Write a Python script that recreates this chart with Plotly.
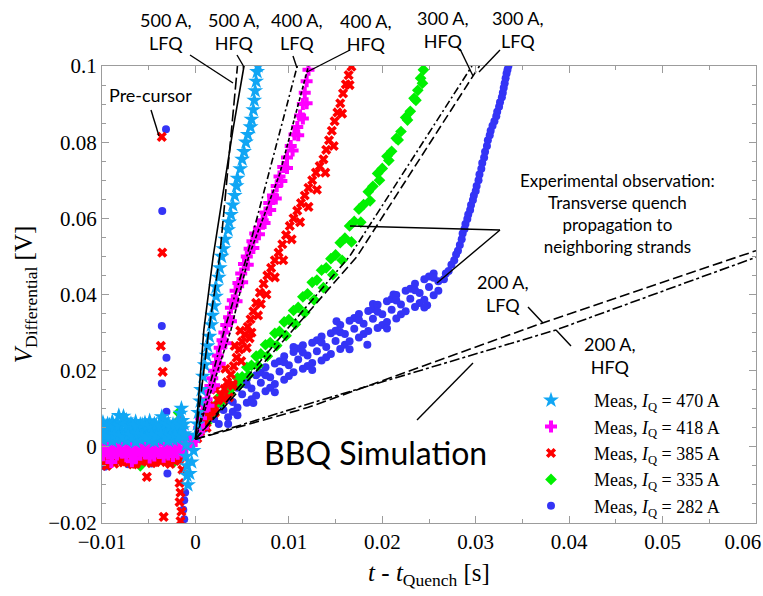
import plotly.graph_objects as go

# ---------------- axis tick labels ----------------
x_tickvals = [-0.01, 0.0, 0.01, 0.02, 0.03, 0.04, 0.05, 0.06]
x_ticktext = ["\u22120.01", "0", "0.01", "0.02", "0.03", "0.04", "0.05",
              "0.06\u00a0\u00a0\u00a0\u00a0\u00a0"]

pre_t = [-0.0099, -0.0094, -0.0089, -0.0084, -0.0079, -0.0074, -0.0069, -0.0064, -0.0059,
         -0.0054, -0.0049, -0.0044, -0.0039, -0.0034, -0.0029, -0.0024, -0.0019, -0.0014]
pre_t_b = [-0.0097, -0.0092, -0.0087, -0.0082, -0.0077, -0.0072, -0.0067, -0.0062, -0.0057,
           -0.0052, -0.0047, -0.0042, -0.0037, -0.0032, -0.0027, -0.0022, -0.0017, -0.0012]

# 470 A (cyan stars)
cyan_pre_hi = [0.0064, 0.0060, 0.0067, 0.0058, 0.0062, 0.0070, 0.0061, 0.0066, 0.0059,
               0.0063, 0.0068, 0.0060, 0.0057, 0.0071, 0.0062, 0.0059, 0.0064, 0.0069]
cyan_pre_mid = [0.0041, 0.0038, 0.0044, 0.0036, 0.0040, 0.0043, 0.0037, 0.0042, 0.0039,
                0.0045, 0.0035, 0.0041, 0.0038, 0.0044, 0.0040, 0.0036, 0.0043, 0.0047]
cyan_pre_lo = [0.0018, 0.0022, 0.0015, 0.0020, 0.0024, 0.0016, 0.0021, 0.0013, 0.0019,
               0.0023, 0.0017, 0.0014, 0.0020, 0.0022, 0.0016, 0.0019, 0.0021, 0.0025]
cyan_pre_b_hi = [0.0053, 0.0057, 0.0050, 0.0055, 0.0059, 0.0052, 0.0056, 0.0051, 0.0058,
                 0.0054, 0.0050, 0.0057, 0.0053, 0.0059, 0.0052, 0.0055, 0.0058, 0.0060]
cyan_pre_b_lo = [0.0029, 0.0025, 0.0031, 0.0027, 0.0024, 0.0030, 0.0026, 0.0032, 0.0028,
                 0.0025, 0.0030, 0.0027, 0.0033, 0.0026, 0.0029, 0.0031, 0.0028, 0.0034]
cyan_ext_x = [-0.0082, -0.0077, -0.0036, -0.0015, -0.0016, -0.0011, -0.0010, -0.0010, -0.0009,
              -0.0009, -0.0008, -0.0006, -0.0004, -0.0002]
cyan_ext_y = [0.0082, 0.0080, 0.0079, 0.0101, 0.0088, 0.0030, 0.0005, -0.0025, -0.0050,
              -0.0075, -0.0100, -0.0070, -0.0040, -0.0010]
cyan_post_x = [0.0000, 0.0002, 0.0003, 0.0005, 0.0006, 0.0008, 0.0010, 0.0012, 0.0013, 0.0015,
               0.0017, 0.0018, 0.0020, 0.0022, 0.0022, 0.0025, 0.0026, 0.0028, 0.0030, 0.0032,
               0.0035, 0.0036, 0.0038, 0.0040, 0.0042, 0.0044, 0.0045, 0.0048, 0.0050, 0.0052,
               0.0054, 0.0056, 0.0059, 0.0060, 0.0062, 0.0063, 0.0064, 0.0065, 0.0066, 0.0067]
cyan_post_y = [0.0030, 0.0060, 0.0090, 0.0120, 0.0150, 0.0185, 0.0215, 0.0240, 0.0265, 0.0290,
               0.0320, 0.0345, 0.0370, 0.0395, 0.0420, 0.0445, 0.0470, 0.0500, 0.0520, 0.0545,
               0.0570, 0.0590, 0.0610, 0.0635, 0.0660, 0.0685, 0.0705, 0.0730, 0.0755, 0.0775,
               0.0800, 0.0820, 0.0840, 0.0860, 0.0885, 0.0910, 0.0935, 0.0960, 0.0985, 0.1000]

# 418 A (magenta plus)
mag_pre_hi = [0.0008, 0.0012, 0.0004, 0.0010, 0.0015, 0.0006, 0.0011, 0.0003, 0.0009,
              0.0013, 0.0005, 0.0010, 0.0016, 0.0007, 0.0012, 0.0004, 0.0011, 0.0020]
mag_pre_lo = [-0.0022, -0.0018, -0.0027, -0.0020, -0.0015, -0.0025, -0.0019, -0.0030, -0.0021,
              -0.0017, -0.0028, -0.0023, -0.0016, -0.0026, -0.0020, -0.0024, -0.0018, -0.0012]
mag_pre_b = [-0.0008, -0.0012, -0.0005, -0.0010, -0.0014, -0.0007, -0.0011, -0.0004, -0.0009,
             -0.0013, -0.0006, -0.0010, -0.0015, -0.0008, -0.0011, -0.0005, -0.0009, -0.0003]
mag_ext_x = [-0.0090, -0.0068, -0.0018, -0.0016, -0.0006, -0.0004, -0.0002]
mag_ext_y = [-0.0040, -0.0038, 0.0065, 0.0042, 0.0020, 0.0005, 0.0015]
mag_post_x = [0.0002, 0.0004, 0.0006, 0.0008, 0.0010, 0.0012, 0.0014, 0.0016, 0.0018, 0.0020,
              0.0022, 0.0024, 0.0026, 0.0029, 0.0031, 0.0033, 0.0036, 0.0038, 0.0040, 0.0043,
              0.0046, 0.0049, 0.0052, 0.0055, 0.0058, 0.0061, 0.0064, 0.0068, 0.0072, 0.0075,
              0.0079, 0.0083, 0.0087, 0.0090, 0.0094, 0.0098, 0.0102, 0.0106, 0.0109, 0.0112,
              0.0115, 0.0117, 0.0119, 0.0121]
mag_post_y = [0.0030, 0.0050, 0.0075, 0.0095, 0.0110, 0.0125, 0.0145, 0.0160, 0.0180, 0.0200,
              0.0220, 0.0240, 0.0260, 0.0280, 0.0300, 0.0320, 0.0340, 0.0365, 0.0385, 0.0410,
              0.0430, 0.0455, 0.0480, 0.0500, 0.0520, 0.0540, 0.0560, 0.0575, 0.0595, 0.0615,
              0.0640, 0.0660, 0.0685, 0.0710, 0.0735, 0.0760, 0.0790, 0.0820, 0.0840, 0.0870,
              0.0900, 0.0930, 0.0960, 0.0990]
mag_post2_x = [0.0008, 0.0014, 0.0020, 0.0026, 0.0032, 0.0038, 0.0044, 0.0050, 0.0056, 0.0062,
               0.0068, 0.0074, 0.0080, 0.0086, 0.0092, 0.0098, 0.0104, 0.0110, 0.0115, 0.0119]
mag_post2_y = [0.0050, 0.0108, 0.0162, 0.0218, 0.0272, 0.0330, 0.0382, 0.0432, 0.0478, 0.0522,
               0.0558, 0.0588, 0.0622, 0.0652, 0.0698, 0.0732, 0.0778, 0.0818, 0.0862, 0.0902]

# 385 A (red x)
red_pre = [-0.0030, -0.0042, -0.0026, -0.0035, -0.0022, -0.0038, -0.0031, -0.0045, -0.0028,
           -0.0036, -0.0024, -0.0040, -0.0033, -0.0027, -0.0039, -0.0029, -0.0034, -0.0021]
red_pre_b = [-0.0038, -0.0032, -0.0044, -0.0036, -0.0041, -0.0030, -0.0046, -0.0034, -0.0039,
             -0.0031, -0.0043, -0.0035, -0.0040, -0.0033, -0.0045, -0.0037, -0.0032, -0.0028]
red_ext_x = [-0.0095, -0.0052, -0.0036, -0.00355, -0.0037, -0.0035, -0.0034, -0.0017, -0.0016,
             -0.0017, -0.0015, -0.0016, -0.0014]
red_ext_y = [-0.0050, -0.0079, 0.0814, 0.0510, 0.0265, 0.0197, -0.0184, -0.0095, -0.0120,
             -0.0145, -0.0170, -0.0195, -0.0060]
red_post_x = [0.0002, 0.0005, 0.0008, 0.0011, 0.0014, 0.0017, 0.0020, 0.0024, 0.0028, 0.0031,
              0.0034, 0.0038, 0.0041, 0.0044, 0.0047, 0.0050, 0.0053, 0.0056, 0.0059, 0.0062,
              0.0065, 0.0069, 0.0073, 0.0077, 0.0081, 0.0085, 0.0089, 0.0093, 0.0097, 0.0101,
              0.0105, 0.0109, 0.0113, 0.0117, 0.0121, 0.0125, 0.0129, 0.0133, 0.0137, 0.0140,
              0.0143, 0.0146, 0.0149, 0.0152, 0.0155, 0.0158, 0.0161, 0.0164, 0.0167,
              0.0022, 0.0032, 0.0042, 0.0048, 0.0036, 0.0055, 0.0060, 0.0070, 0.0040]
red_post_y = [0.0022, 0.0040, 0.0052, 0.0068, 0.0080, 0.0094, 0.0108, 0.0122, 0.0136, 0.0152,
              0.0170, 0.0190, 0.0212, 0.0234, 0.0256, 0.0276, 0.0295, 0.0315, 0.0335, 0.0356,
              0.0378, 0.0405, 0.0428, 0.0450, 0.0470, 0.0490, 0.0510, 0.0532, 0.0556, 0.0580,
              0.0600, 0.0620, 0.0640, 0.0660, 0.0680, 0.0700, 0.0720, 0.0737, 0.0755, 0.0780,
              0.0805, 0.0830, 0.0855, 0.0878, 0.0902, 0.0928, 0.0952, 0.0976, 0.0998,
              0.0150, 0.0205, 0.0265, 0.0305, 0.0130, 0.0260, 0.0300, 0.0375, 0.0160]
red_post2_x = [0.0012, 0.0021, 0.0030, 0.0040, 0.0049, 0.0058, 0.0067, 0.0076, 0.0085, 0.0094,
               0.0103, 0.0112, 0.0121, 0.0130, 0.0139, 0.0148, 0.0157, 0.0165]
red_post2_y = [0.0050, 0.0090, 0.0125, 0.0165, 0.0225, 0.0285, 0.0345, 0.0400, 0.0445, 0.0490,
               0.0545, 0.0590, 0.0630, 0.0675, 0.0720, 0.0790, 0.0875, 0.0950]

# 335 A (green diamonds)
grn_ext_x = [-0.0080, -0.0059, -0.0040, -0.0023, -0.0018, -0.0017]
grn_ext_y = [-0.0035, -0.0050, -0.0032, -0.0040, 0.0090, 0.0072]
grn_post_x = [0.0005, 0.0009, 0.0013, 0.0017, 0.0021, 0.0025, 0.0030, 0.0035, 0.0040, 0.0045,
              0.0050, 0.0055, 0.0060, 0.0065, 0.0070, 0.0075, 0.0080, 0.0085, 0.0090, 0.0095,
              0.0100, 0.0105, 0.0110, 0.0115, 0.0120, 0.0125, 0.0130, 0.0135, 0.0140, 0.0145,
              0.0150, 0.0155, 0.0160, 0.0165, 0.0170, 0.0175, 0.0180, 0.0185, 0.0190, 0.0195,
              0.0200, 0.0205, 0.0210, 0.0215, 0.0220, 0.0225, 0.0230, 0.0234, 0.0238, 0.0241,
              0.0244]
grn_post_y = [0.0040, 0.0064, 0.0078, 0.0099, 0.0108, 0.0130, 0.0134, 0.0156, 0.0158, 0.0181,
              0.0184, 0.0209, 0.0214, 0.0238, 0.0244, 0.0268, 0.0274, 0.0298, 0.0303, 0.0328,
              0.0334, 0.0358, 0.0366, 0.0394, 0.0402, 0.0432, 0.0438, 0.0464, 0.0470, 0.0494,
              0.0504, 0.0536, 0.0548, 0.0580, 0.0592, 0.0624, 0.0636, 0.0670, 0.0684, 0.0718,
              0.0731, 0.0763, 0.0776, 0.0810, 0.0828, 0.0865, 0.0881, 0.0915, 0.0936, 0.0968,
              0.0990]
grn_post2_x = [0.0012, 0.0020, 0.0028, 0.0037, 0.0047, 0.0057, 0.0067, 0.0077, 0.0087, 0.0097,
               0.0107, 0.0117, 0.0127, 0.0137, 0.0147, 0.0157, 0.0167, 0.0177, 0.0187, 0.0197,
               0.0207, 0.0217, 0.0227, 0.0236, 0.0243]
grn_post2_y = [0.0062, 0.0090, 0.0118, 0.0141, 0.0162, 0.0188, 0.0213, 0.0238, 0.0266, 0.0292,
               0.0322, 0.0352, 0.0386, 0.0418, 0.0452, 0.0490, 0.0538, 0.0590, 0.0646, 0.0700,
               0.0752, 0.0806, 0.0858, 0.0910, 0.0955]

# 282 A (blue circles)
blu_ext_x = [-0.0097, -0.0086, -0.0072, -0.0061, -0.0047, -0.0025, -0.0020,
             -0.00315, -0.00355, -0.0036, -0.0031, -0.0036, -0.0031, -0.0030,
             -0.0012, -0.0013, -0.0012, -0.0011]
blu_ext_y = [-0.0052, -0.0040, -0.0046, -0.0038, -0.0044, -0.0041, -0.0036,
             0.0834, 0.0619, 0.0317, 0.0234, 0.0166, 0.0092, -0.0070,
             -0.0140, -0.0165, -0.0190, -0.0120]
blu_post_x = [0.0002, 0.0010, 0.0020, 0.0030, 0.0040, 0.0050, 0.0060, 0.0070, 0.0080, 0.0090,
              0.0100, 0.0110, 0.0120, 0.0130, 0.0140, 0.0150, 0.0160, 0.0170, 0.0180, 0.0190,
              0.0200, 0.0210, 0.0220, 0.0230, 0.0240, 0.0250, 0.0260, 0.0268, 0.0274, 0.0279,
              0.0283, 0.0286, 0.0289, 0.0292, 0.0295, 0.0298, 0.0301, 0.0304, 0.0307, 0.0310,
              0.0313, 0.0316, 0.0320, 0.0323, 0.0326, 0.0329, 0.0331, 0.0333, 0.0335,
              0.0030, 0.0050, 0.0070, 0.0090, 0.0110, 0.0130, 0.0150, 0.0170, 0.0190, 0.0210,
              0.0230, 0.0250,
              0.0040, 0.0060, 0.0080, 0.0100, 0.0120, 0.0140, 0.0160, 0.0180, 0.0200, 0.0220,
              0.0240, 0.0260,
              0.0062, 0.0151, 0.0184, 0.0190, 0.0248, 0.0212, 0.0105, 0.0035]
blu_post_y = [0.0030, 0.0048, 0.0073, 0.0097, 0.0118, 0.0138, 0.0153, 0.0168, 0.0183, 0.0198,
              0.0214, 0.0229, 0.0240, 0.0251, 0.0262, 0.0278, 0.0296, 0.0310, 0.0323, 0.0336,
              0.0348, 0.0360, 0.0374, 0.0389, 0.0404, 0.0420, 0.0435, 0.0455, 0.0478, 0.0505,
              0.0530, 0.0560, 0.0585, 0.0610, 0.0635, 0.0660, 0.0685, 0.0715, 0.0745, 0.0775,
              0.0805, 0.0830, 0.0855, 0.0880, 0.0905, 0.0930, 0.0955, 0.0980, 0.1000,
              0.0125, 0.0165, 0.0195, 0.0225, 0.0258, 0.0280, 0.0305, 0.0338, 0.0362, 0.0388,
              0.0415, 0.0447,
              0.0092, 0.0125, 0.0155, 0.0186, 0.0212, 0.0235, 0.0268, 0.0296, 0.0320, 0.0348,
              0.0378, 0.0410,
              0.0115, 0.0330, 0.0268, 0.0375, 0.0372, 0.0400, 0.0262, 0.0060]
blu_band_x = [0.0025, 0.0035, 0.0045, 0.0055, 0.0065, 0.0075, 0.0085, 0.0095, 0.0105, 0.0115,
              0.0125, 0.0135, 0.0145, 0.0155, 0.0165, 0.0175, 0.0185, 0.0195, 0.0205, 0.0215,
              0.0225, 0.0235, 0.0245, 0.0255]
blu_band_hi = [0.0112, 0.0141, 0.0155, 0.0178, 0.0188, 0.0209, 0.0219, 0.0238, 0.0249, 0.0267,
               0.0273, 0.0290, 0.0298, 0.0320, 0.0331, 0.0349, 0.0357, 0.0373, 0.0382, 0.0399,
               0.0410, 0.0428, 0.0440, 0.0455]
blu_band_lo = [0.0060, 0.0078, 0.0103, 0.0116, 0.0135, 0.0146, 0.0165, 0.0176, 0.0196, 0.0205,
               0.0220, 0.0227, 0.0244, 0.0257, 0.0277, 0.0287, 0.0304, 0.0312, 0.0328, 0.0337,
               0.0356, 0.0367, 0.0386, 0.0398]
blu_more_x = [0.0015, 0.0035, 0.0055, 0.0075, 0.0095, 0.0115, 0.0135, 0.0155, 0.0175, 0.0195,
              0.0215, 0.0235, 0.0255, 0.0045, 0.0085, 0.0125, 0.0165, 0.0205, 0.0245]
blu_more_y = [0.0078, 0.0123, 0.0163, 0.0188, 0.0222, 0.0248, 0.0274, 0.0301, 0.0333, 0.0355,
              0.0384, 0.0411, 0.0444, 0.0083, 0.0143, 0.0202, 0.0256, 0.0311, 0.0366]
blu_steep_x = [0.0266, 0.0271, 0.0277, 0.0281, 0.0285, 0.0288, 0.0291, 0.0294, 0.0297, 0.0300,
               0.0303, 0.0306, 0.0309, 0.0312, 0.0315, 0.0318, 0.0322, 0.0325, 0.0328, 0.0330,
               0.0332, 0.0334]
blu_steep_y = [0.0440, 0.0462, 0.0490, 0.0515, 0.0545, 0.0572, 0.0598, 0.0622, 0.0648, 0.0672,
               0.0700, 0.0730, 0.0760, 0.0790, 0.0818, 0.0843, 0.0868, 0.0893, 0.0918, 0.0943,
               0.0968, 0.0990]

# ---------------- BBQ simulation curves ----------------
sim_500_lfq_x = [0.0, 0.0014, 0.0026, 0.0045]
sim_500_lfq_y = [0.002, 0.030, 0.050, 0.100]
sim_500_hfq_x = [0.0, 0.0009, 0.0019, 0.0040, 0.0052]
sim_500_hfq_y = [0.002, 0.0307, 0.050, 0.083, 0.100]
sim_400_lfq_x = [0.0, 0.0031, 0.0055, 0.0082, 0.0109]
sim_400_lfq_y = [0.002, 0.0307, 0.050, 0.075, 0.100]
sim_400_hfq_x = [0.0, 0.0038, 0.0057, 0.0090, 0.0121]
sim_400_hfq_y = [0.002, 0.0307, 0.050, 0.0715, 0.100]
sim_300_hfq_x = [0.0, 0.0095, 0.0165, 0.0296]
sim_300_hfq_y = [0.002, 0.030, 0.050, 0.100]
sim_300_lfq_x = [0.0, 0.0102, 0.0173, 0.0304]
sim_300_lfq_y = [0.002, 0.030, 0.050, 0.100]
sim_200_lfq_x = [0.0, 0.012, 0.037, 0.060]
sim_200_lfq_y = [0.002, 0.0103, 0.0324, 0.0515]
sim_200_hfq_x = [0.0, 0.012, 0.0386, 0.060]
sim_200_hfq_y = [0.002, 0.0112, 0.0307, 0.0498]

series_names = ["Meas, <i>I</i><sub>Q</sub> = 470 A", "Meas, <i>I</i><sub>Q</sub> = 418 A",
                "Meas, <i>I</i><sub>Q</sub> = 385 A", "Meas, <i>I</i><sub>Q</sub> = 335 A",
                "Meas, <i>I</i><sub>Q</sub> = 282 A"]

# ---------------- figure ----------------
W, H = 763, 596
L, R, T, B = 102, 756, 66, 523


def pxx(p):
    return (p - L) / (R - L)


def pxy(p):
    return (B - p) / (B - T)


fig = go.Figure()

serif = "Liberation Serif"
sans = "Lato"

# draw order: blue (bottom) ... cyan (top); legend reversed
fig.add_trace(go.Scatter(x=blu_ext_x + blu_post_x + blu_band_x + blu_band_x + blu_more_x + blu_steep_x,
                         y=blu_ext_y + blu_post_y + blu_band_hi + blu_band_lo + blu_more_y + blu_steep_y,
                         mode="markers", name=series_names[4],
                         marker=dict(symbol="circle", size=8, color="#3434F6")))
fig.add_trace(go.Scatter(x=grn_ext_x + grn_post_x + grn_post2_x,
                         y=grn_ext_y + grn_post_y + grn_post2_y, mode="markers",
                         name=series_names[3],
                         marker=dict(symbol="diamond", size=9, color="#00F000")))
fig.add_trace(go.Scatter(x=pre_t + pre_t_b + red_ext_x + red_post_x + red_post2_x,
                         y=red_pre + red_pre_b + red_ext_y + red_post_y + red_post2_y,
                         mode="markers", name=series_names[2],
                         marker=dict(symbol="x", size=9, color="#FF0000")))
fig.add_trace(go.Scatter(x=pre_t + pre_t + pre_t_b + mag_ext_x + mag_post_x + mag_post2_x,
                         y=mag_pre_hi + mag_pre_lo + mag_pre_b + mag_ext_y + mag_post_y + mag_post2_y,
                         mode="markers", name=series_names[1],
                         marker=dict(symbol="cross", size=10, color="#FF00FF")))
fig.add_trace(go.Scatter(x=pre_t + pre_t + pre_t + pre_t_b + pre_t_b + cyan_ext_x + cyan_post_x,
                         y=cyan_pre_hi + cyan_pre_mid + cyan_pre_lo + cyan_pre_b_hi + cyan_pre_b_lo
                         + cyan_ext_y + cyan_post_y,
                         mode="markers", name=series_names[0],
                         marker=dict(symbol="star", size=12, color="#10A6F4")))

sims = [
    (sim_500_lfq_x, sim_500_lfq_y, "12px,4px"),
    (sim_500_hfq_x, sim_500_hfq_y, "solid"),
    (sim_400_lfq_x, sim_400_lfq_y, "7px,3px,2px,3px"),
    (sim_400_hfq_x, sim_400_hfq_y, "4px,2px"),
    (sim_300_hfq_x, sim_300_hfq_y, "8px,3px,2px,3px"),
    (sim_300_lfq_x, sim_300_lfq_y, "9px,4px"),
    (sim_200_lfq_x, sim_200_lfq_y, "10px,4px"),
    (sim_200_hfq_x, sim_200_hfq_y, "10px,3px,3px,3px"),
]
for sx, sy, dash in sims:
    fig.add_trace(go.Scatter(x=sx, y=sy, mode="lines", showlegend=False, hoverinfo="skip",
                             line=dict(color="black", width=1.6, dash=dash)))

# ---------------- annotations ----------------
labels = [
    ("500 A,<br>LFQ", 166, 31.5, 18),
    ("500 A,<br>HFQ", 234, 31.5, 18),
    ("400 A,<br>LFQ", 297, 31.5, 18),
    ("400 A,<br>HFQ", 366, 32.5, 18),
    ("300 A,<br>HFQ", 443, 29.5, 18),
    ("300 A,<br>LFQ", 518, 29.5, 18),
    ("Pre-cursor", 150, 95, 18),
    ("Experimental observation:<br>Transverse quench<br>propagation to<br>neighboring strands",
     617, 213, 17),
    ("200 A,<br>LFQ", 503, 293, 18),
    ("200 A,<br>HFQ", 610, 355, 18),
    ("BBQ Simulation", 375, 452, 32),
]
for txt, xp, yp, fs in labels:
    fig.add_annotation(text=txt, x=pxx(xp), y=pxy(yp), xref="paper", yref="paper",
                       showarrow=False, xanchor="center", yanchor="middle", align="center",
                       font=dict(family=sans, size=fs, color="black"))

leaders = [
    (190, 55, 233, 83), (237, 55, 244, 67), (293, 56, 297, 68), (350, 50, 307, 72),
    (460, 49, 473, 76), (500, 50, 479, 72), (151, 110, 159, 136),
    (350, 226, 500, 230), (500, 230, 437, 283),
    (528, 307, 543, 323), (556, 330, 571, 346), (473, 363, 417, 420),
]
for x0, y0, x1, y1 in leaders:
    fig.add_shape(type="line", xref="paper", yref="paper",
                  x0=pxx(x0), y0=pxy(y0), x1=pxx(x1), y1=pxy(y1),
                  line=dict(color="black", width=1.4))

axcol = "#9c9c9c"
common = dict(showline=True, linecolor=axcol, linewidth=1, mirror="ticks", ticks="inside",
              ticklen=7, tickcolor=axcol, tickwidth=1, showgrid=False, zeroline=False,
              automargin=False,
              tickfont=dict(family=serif, size=21, color="black"))

fig.update_xaxes(range=[-0.0100001, 0.0600001], tickmode="array", tickvals=x_tickvals,
                 ticktext=x_ticktext, ticklabeloverflow="allow",
                 minor=dict(ticks="inside", ticklen=4, tickmode="linear", tick0=0, dtick=0.005,
                            tickcolor=axcol, showgrid=False),
                 title=dict(text="<i>t</i> - <i>t</i><sub>Quench</sub> [s]",
                            font=dict(family=serif, size=25, color="black"), standoff=10),
                 **common)
fig.update_yaxes(range=[-0.0200001, 0.1000001], dtick=0.02, tick0=0,
                 minor=dict(ticks="inside", ticklen=4, dtick=0.005, tickcolor=axcol, showgrid=False),
                 title=dict(text="<i>V</i><sub>Differential</sub> [V]",
                            font=dict(family=serif, size=25, color="black"), standoff=8),
                 **common)

fig.update_layout(
    width=W, height=H,
    margin=dict(l=L, r=W - R, t=T, b=H - B),
    plot_bgcolor="white", paper_bgcolor="white",
    legend=dict(x=pxx(508), y=pxy(524), xanchor="left", yanchor="bottom",
                traceorder="reversed", bgcolor="rgba(0,0,0,0)", itemwidth=76,
                font=dict(family=serif, size=18, color="black")),
)

fig.write_html("out.html")
